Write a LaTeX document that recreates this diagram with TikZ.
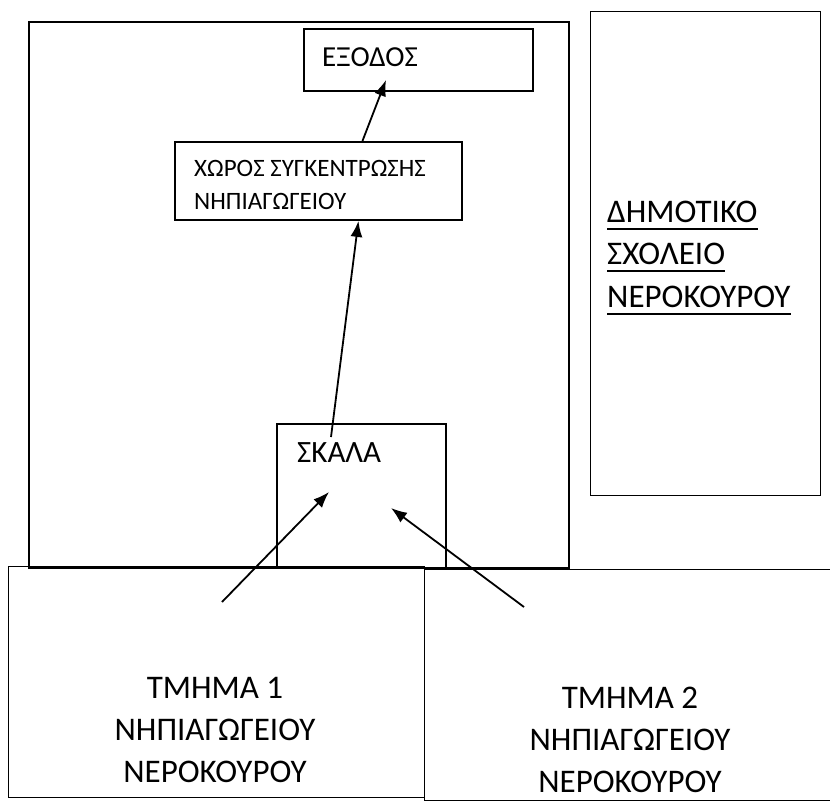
\documentclass[tikz,border=0pt]{standalone}
\usepackage{fontspec}
\setmainfont{Carlito}
\usetikzlibrary{arrows.meta}
\begin{document}
\begin{tikzpicture}[x=1pt,y=-1pt,
  wall/.style={draw, line width=1.9pt, inner sep=0pt},
  room/.style={draw, line width=1.3pt, inner sep=0pt},
  lbl/.style={inner sep=0pt, anchor=base west},
  big/.style={font=\fontsize{33}{42}\selectfont},
  arr/.style={line width=1.8pt, -{Latex[length=16pt,width=12pt]}}]
\useasboundingbox (0,0) rectangle (830,810);
\fill[white] (0,0) rectangle (830,810);

% classrooms at the bottom
\node[room, anchor=north west, minimum width=416pt, minimum height=231pt] (room1) at (8,566) {};
\node[room, anchor=north west, minimum width=420pt, minimum height=231pt] (room2) at (424,569) {};

% kindergarten building
\node[wall, anchor=north west, minimum width=540pt, minimum height=546pt] (main) at (28,21) {};
\node[wall, anchor=north west, minimum width=229pt, minimum height=62pt] (exit) at (303,28) {};
\node[wall, anchor=north west, minimum width=287pt, minimum height=78pt] (hub) at (174,141) {};
\node[wall, anchor=north west, minimum width=169pt, minimum height=144pt] (stair) at (276,423) {};

% primary school
\node[room, anchor=north west, minimum width=230pt, minimum height=484pt] (school) at (590,11) {};

% texts
\node[lbl, font=\fontsize{29}{29}\selectfont] (exitT) at (322,67) {ΕΞΟΔΟΣ};
\node[lbl, font=\fontsize{25}{25}\selectfont] (hubT1) at (194,177) {ΧΩΡΟΣ ΣΥΓΚΕΝΤΡΩΣΗΣ};
\node[lbl, font=\fontsize{25}{25}\selectfont] (hubT2) at (194,210) {ΝΗΠΙΑΓΩΓΕΙΟΥ};
\node[lbl, font=\fontsize{31}{31}\selectfont] (stairT) at (297,462) {ΣΚΑΛΑ};

\node[lbl, big] (sch1) at (607,223) {ΔΗΜΟΤΙΚΟ};
\node[lbl, big] (sch2) at (607,265) {ΣΧΟΛΕΙΟ};
\node[lbl, big] (sch3) at (607,308) {ΝΕΡΟΚΟΥΡΟΥ};
\foreach \n in {sch1,sch2,sch3}
  \draw[line width=1.7pt] ([yshift=-6pt]\n.base west) -- ([yshift=-6pt]\n.base east);

\node[big, align=center, inner sep=0pt] (room1T) at (215,730) {ΤΜΗΜΑ 1\\ΝΗΠΙΑΓΩΓΕΙΟΥ\\ΝΕΡΟΚΟΥΡΟΥ};
\node[big, align=center, inner sep=0pt] (room2T) at (630,740) {ΤΜΗΜΑ 2\\ΝΗΠΙΑΓΩΓΕΙΟΥ\\ΝΕΡΟΚΟΥΡΟΥ};

% arrows
\coordinate (exitTip) at (386,80);
\coordinate (stairTail) at (331,437);
\coordinate (tipA) at (329,492);
\coordinate (tipB) at (391,508);
\coordinate (tailA) at (222,602);
\coordinate (tailB) at (524,607);
\draw[arr] ([xshift=44pt]hub.north) -- (exitTip);
\draw[arr] (stairTail) -- ([xshift=40pt]hub.south);
\draw[arr] (tailA) -- (tipA);
\draw[arr] (tailB) -- (tipB);
\end{tikzpicture}
\end{document}
